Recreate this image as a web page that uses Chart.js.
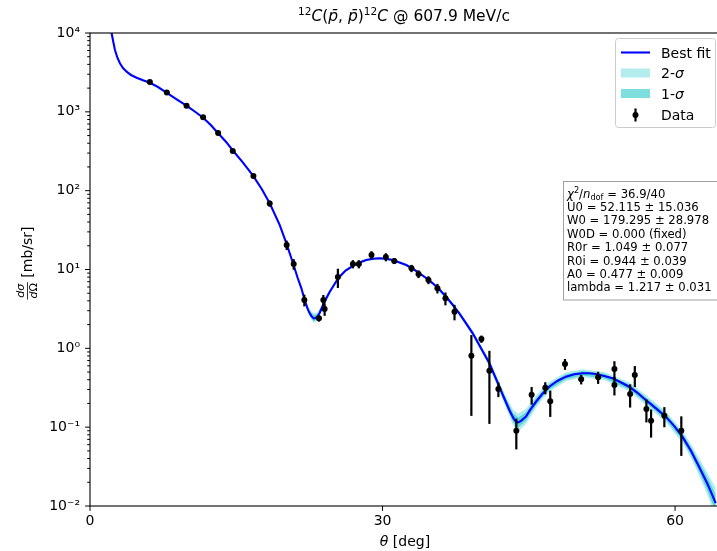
<!DOCTYPE html>
<html><head><meta charset="utf-8">
<script src="https://cdn.jsdelivr.net/npm/chart.js@4.4.0/dist/chart.umd.min.js"></script>
<style>html,body{margin:0;padding:0;overflow:hidden;background:#fff;width:717px;height:551px}canvas{display:block}</style>
</head><body>
<canvas id="c" width="724" height="551" style="width:724px;height:551px"></canvas>
<script>
// ---- data ----
const xTicks = [0, 30, 60];
const yTicks = [1e-2, 1e-1, 1e0, 1e1, 1e2, 1e3, 1e4];

const fitTheta = [2.16, 2.22, 2.35, 2.56, 2.82, 3.07, 3.38, 3.76, 4.20, 4.78, 5.43, 6.14, 6.96, 7.85, 8.81, 9.90, 10.75, 11.60, 12.39, 13.14, 13.92, 14.67, 15.67, 16.72, 17.61, 18.43, 19.46, 20.14, 20.82, 21.30, 21.68, 22.01, 22.32, 22.53, 22.73, 22.94, 23.14, 23.34, 23.55, 23.86, 24.24, 24.57, 24.91, 25.24, 25.60, 26.21, 26.96, 27.64, 28.33, 28.98, 29.69, 30.31, 31.05, 31.74, 32.43, 33.07, 33.79, 34.47, 35.15, 35.84, 36.52, 37.17, 37.88, 38.55, 39.25, 40.03, 40.96, 41.47, 41.98, 42.49, 43.00, 43.41, 43.69, 43.92, 44.23, 44.71, 45.15, 45.74, 46.38, 47.10, 47.92, 48.81, 49.66, 50.51, 51.19, 51.88, 52.73, 53.58, 54.37, 55.29, 56.11, 57.00, 57.95, 59.05, 59.90, 60.75, 61.64, 62.46, 63.28, 63.69, 64.17];
const fitValues = [10900, 9910, 8150, 6080, 4820, 4130, 3600, 3230, 2930, 2710, 2510, 2340, 2070, 1750, 1460, 1200, 1010, 843, 681, 535, 421, 321, 228, 155, 105, 69.2, 36.6, 21.5, 12.0, 7.80, 5.77, 4.10, 3.16, 2.78, 2.54, 2.40, 2.43, 2.55, 2.81, 3.44, 4.35, 5.18, 6.05, 7.05, 8.11, 9.70, 11.1, 12.3, 13.2, 13.7, 13.9, 13.7, 13.2, 12.3, 11.4, 10.3, 8.95, 7.80, 6.68, 5.57, 4.52, 3.60, 2.78, 2.09, 1.55, 1.04, 0.646, 0.459, 0.326, 0.231, 0.165, 0.131, 0.117, 0.115, 0.121, 0.136, 0.167, 0.210, 0.263, 0.326, 0.385, 0.437, 0.468, 0.482, 0.482, 0.472, 0.446, 0.417, 0.374, 0.326, 0.275, 0.221, 0.177, 0.136, 0.104, 0.0757, 0.0498, 0.0315, 0.0196, 0.0150, 0.0109];

const bandTheta = [2.22, 2.56, 3.07, 3.76, 4.78, 6.14, 8.81, 11.60, 13.14, 14.67, 16.72, 17.61, 18.43, 19.46, 20.14, 20.82, 21.30, 21.68, 22.01, 22.53, 22.94, 23.34, 23.86, 24.91, 25.60, 26.21, 27.64, 28.33, 29.69, 31.05, 32.43, 33.79, 35.15, 37.17, 38.55, 39.25, 40.96, 42.49, 43.41, 43.92, 44.71, 45.74, 46.38, 47.10, 48.81, 50.51, 52.73, 55.29, 57.00, 59.05, 60.75, 61.64, 62.46, 63.28, 64.17];
const band2Upper = [10204, 6260, 4252, 3326, 2790, 2409, 1503, 868, 551, 330.5, 159.6, 108.1, 71.25, 37.91, 22.40, 12.61, 8.27, 6.153, 4.450, 3.125, 2.778, 2.866, 3.733, 6.377, 8.473, 10.08, 12.74, 13.67, 14.40, 13.67, 11.81, 9.297, 6.979, 3.817, 2.248, 1.682, 0.7156, 0.2713, 0.1655, 0.1496, 0.1694, 0.2502, 0.3089, 0.3773, 0.4984, 0.5417, 0.5013, 0.3718, 0.2558, 0.1597, 0.09021, 0.06111, 0.04039, 0.02704, 0.01690];
const band2Lower = [9625, 5905, 4011, 3137, 2632, 2273, 1418, 819, 520, 311.8, 150.5, 102.0, 67.21, 35.34, 20.64, 11.42, 7.357, 5.411, 3.778, 2.473, 2.074, 2.269, 3.170, 5.740, 7.762, 9.338, 11.88, 12.75, 13.42, 12.75, 11.01, 8.616, 6.393, 3.396, 1.943, 1.428, 0.5832, 0.1967, 0.1037, 0.08839, 0.1092, 0.1762, 0.2239, 0.2817, 0.3832, 0.4288, 0.3968, 0.2858, 0.1909, 0.1158, 0.06353, 0.04058, 0.02456, 0.01421, 0.00703];
const band1Upper = [10056, 6170, 4191, 3278, 2750, 2374, 1481, 855, 543, 325.7, 157.3, 106.5, 70.22, 37.25, 22.01, 12.36, 8.055, 5.993, 4.296, 2.973, 2.620, 2.735, 3.605, 6.229, 8.302, 9.900, 12.52, 13.43, 14.15, 13.43, 11.60, 9.135, 6.838, 3.718, 2.177, 1.624, 0.6849, 0.2536, 0.1494, 0.1331, 0.1538, 0.2326, 0.2871, 0.3538, 0.4701, 0.5155, 0.4770, 0.3507, 0.2398, 0.1493, 0.08385, 0.05597, 0.03646, 0.02370, 0.01398];
const band1Lower = [9766, 5992, 4070, 3183, 2671, 2306, 1439, 831, 527, 316.3, 152.8, 103.5, 68.20, 35.96, 21.00, 11.65, 7.553, 5.555, 3.913, 2.599, 2.199, 2.377, 3.283, 5.876, 7.923, 9.504, 12.09, 12.97, 13.66, 12.97, 11.20, 8.769, 6.526, 3.486, 2.006, 1.479, 0.6093, 0.2104, 0.1149, 0.09936, 0.1203, 0.1896, 0.2409, 0.3004, 0.4062, 0.4507, 0.4170, 0.3030, 0.2036, 0.1239, 0.06834, 0.04431, 0.02722, 0.01621, 0.00850];

const dataTheta = [6.14, 7.88, 9.90, 11.60, 13.14, 14.64, 16.76, 18.43, 20.17, 20.89, 21.98, 23.48, 23.93, 24.06, 25.42, 26.96, 27.57, 28.87, 30.34, 31.20, 32.97, 33.69, 34.71, 35.63, 36.45, 37.38, 39.11, 40.14, 40.96, 41.88, 43.72, 45.29, 46.69, 47.20, 48.71, 50.37, 52.11, 53.78, 53.78, 55.39, 55.87, 57.06, 57.54, 58.90, 60.64];
const dataValues = [2390, 1759, 1196, 852, 539, 318.6, 153.5, 68.7, 20.45, 11.74, 4.10, 2.403, 4.10, 3.154, 8.03, 11.74, 11.74, 15.27, 14.40, 12.82, 10.35, 8.77, 7.36, 5.77, 4.31, 2.914, 0.806, 1.313, 0.520, 0.3047, 0.0902, 0.258, 0.3165, 0.2128, 0.6326, 0.4046, 0.4290, 0.5466, 0.3424, 0.2633, 0.4588, 0.1699, 0.1207, 0.1397, 0.0902];
const dataErrors = [50, 40, 28, 20, 13, 8, 4.5, 6, 2.8, 1.8, 0.7, 0.22, 0.65, 0.57, 2.2, 1.4, 1.4, 1.8, 1.7, 1.1, 1.1, 1.0, 0.85, 0.8, 0.8, 0.65, 0.667, 0.14, 0.41, 0.064, 0.038, 0.065, 0.055, 0.078, 0.1, 0.056, 0.075, 0.14, 0.09, 0.086, 0.137, 0.055, 0.047, 0.04, 0.047];

const statsLines = ['U0 = 52.115 \u00b1 15.036', 'W0 = 179.295 \u00b1 28.978', 'W0D = 0.000 (fixed)', 'R0r = 1.049 \u00b1 0.077', 'R0i = 0.944 \u00b1 0.039', 'A0 = 0.477 \u00b1 0.009', 'lambda = 1.217 \u00b1 0.031'];

// ---- helpers ----
const FAM = '"DejaVu Sans"';
const pts = (xs, ys) => xs.map((x, i) => ({x: x, y: ys[i]}));
const SUP = {'-': '\u207b', '0': '\u2070', '1': '\u00b9', '2': '\u00b2', '3': '\u00b3', '4': '\u2074'};
const sup = s => String(s).split('').map(c => SUP[c]).join('');
function fnt(r, base) { return (r.i ? 'italic ' : '') + (r.s || base) + 'px ' + FAM; }
function drawRuns(ctx, runs, x, y, base, align) {
  let total = 0;
  runs.forEach(r => { ctx.font = fnt(r, base); r.w = ctx.measureText(r.t).width; total += r.w; });
  let cx = align === 'center' ? x - total / 2 : x;
  ctx.textAlign = 'left'; ctx.textBaseline = 'alphabetic';
  runs.forEach(r => { ctx.font = fnt(r, base); ctx.fillText(r.t, cx, y + (r.dy || 0)); cx += r.w; });
  return total;
}

const decor = {
  id: 'decor',
  afterDatasetsDraw(chart) {
    const ctx = chart.ctx, xs = chart.scales.x, ys = chart.scales.y, ca = chart.chartArea;
    ctx.save();
    ctx.beginPath(); ctx.rect(ca.left, ca.top, ca.right - ca.left, ca.bottom - ca.top); ctx.clip();
    ctx.strokeStyle = '#000'; ctx.lineWidth = 2.2;
    dataTheta.forEach((t, i) => {
      const x = xs.getPixelForValue(t);
      const hi = ys.getPixelForValue(dataValues[i] + dataErrors[i]);
      const lo = ys.getPixelForValue(Math.max(dataValues[i] - dataErrors[i], 1e-4));
      ctx.beginPath(); ctx.moveTo(x, hi); ctx.lineTo(x, lo); ctx.stroke();
    });
    ctx.restore();
  },
  afterDraw(chart) {
    const ctx = chart.ctx, xs = chart.scales.x, ys = chart.scales.y, ca = chart.chartArea;
    ctx.save();
    // frame
    ctx.strokeStyle = '#000'; ctx.lineWidth = 1.1;
    ctx.strokeRect(ca.left, ca.top, ca.right - ca.left, ca.bottom - ca.top);
    // ticks
    ctx.lineWidth = 1;
    ctx.beginPath();
    yTicks.forEach(v => { const y = ys.getPixelForValue(v); ctx.moveTo(ca.left - 4.9, y); ctx.lineTo(ca.left, y); });
    for (let e = -2; e < 4; e++) for (let k = 2; k < 10; k++) {
      const y = ys.getPixelForValue(k * Math.pow(10, e)); ctx.moveTo(ca.left - 2.8, y); ctx.lineTo(ca.left, y);
    }
    xTicks.forEach(v => { const x = xs.getPixelForValue(v); ctx.moveTo(x, ca.bottom); ctx.lineTo(x, ca.bottom + 4.9); });
    ctx.stroke();

    ctx.fillStyle = '#000';
    // title
    drawRuns(ctx, [{t: '12', s: 10.5, dy: -6}, {t: 'C', i: 1}, {t: '('}, {t: 'p\u0304', i: 1}, {t: ', '}, {t: 'p\u0304', i: 1}, {t: ')'}, {t: '12', s: 10.5, dy: -6}, {t: 'C', i: 1}, {t: ' @ 607.9 MeV/c'}], 404, 21, 15.5, 'center');
    // x label
    drawRuns(ctx, [{t: '\u03b8', i: 1}, {t: ' [deg]'}], 405, 546, 14, 'center');
    // y label (rotated)
    ctx.save();
    ctx.translate(27, 263); ctx.rotate(-Math.PI / 2);
    ctx.font = 'italic 11px ' + FAM;
    const numW = ctx.measureText('d\u03c3').width;
    const dW = ctx.measureText('d').width;
    ctx.font = '11px ' + FAM;
    const denW = dW + ctx.measureText('\u03a9').width;
    const fracW = Math.max(numW, denW) + 2;
    ctx.font = '14px ' + FAM;
    const txtW = ctx.measureText(' [mb/sr]').width;
    const start = -(fracW + txtW) / 2;
    drawRuns(ctx, [{t: 'd\u03c3', i: 1}], start + fracW / 2, -3, 11, 'center');
    drawRuns(ctx, [{t: 'd', i: 1}, {t: '\u03a9'}], start + fracW / 2, 10, 11, 'center');
    ctx.lineWidth = 0.8; ctx.beginPath(); ctx.moveTo(start, 0.5); ctx.lineTo(start + fracW, 0.5); ctx.stroke();
    ctx.font = '14px ' + FAM; ctx.textAlign = 'left'; ctx.textBaseline = 'alphabetic';
    ctx.fillText(' [mb/sr]', start + fracW, 4.5);
    ctx.restore();

    // legend
    ctx.fillStyle = 'rgba(255,255,255,0.85)'; ctx.strokeStyle = '#cccccc'; ctx.lineWidth = 1;
    ctx.beginPath(); ctx.roundRect(615.5, 38.5, 100, 89, 3); ctx.fill(); ctx.stroke();
    ctx.strokeStyle = '#0000ff'; ctx.lineWidth = 2.1;
    ctx.beginPath(); ctx.moveTo(621, 52.5); ctx.lineTo(650, 52.5); ctx.stroke();
    ctx.fillStyle = 'rgba(0,191,191,0.3)'; ctx.fillRect(621, 68.5, 29, 9);
    ctx.fillStyle = 'rgba(0,191,191,0.5)'; ctx.fillRect(621, 89, 29, 9);
    ctx.strokeStyle = '#000'; ctx.lineWidth = 2.2;
    ctx.beginPath(); ctx.moveTo(635.5, 108.5); ctx.lineTo(635.5, 121.5); ctx.stroke();
    ctx.fillStyle = '#000'; ctx.beginPath(); ctx.arc(635.5, 115, 3, 0, Math.PI * 2); ctx.fill();
    drawRuns(ctx, [{t: 'Best fit'}], 661, 57.5, 14, 'left');
    drawRuns(ctx, [{t: '2-'}, {t: '\u03c3', i: 1}], 661, 78, 14, 'left');
    drawRuns(ctx, [{t: '1-'}, {t: '\u03c3', i: 1}], 661, 98.5, 14, 'left');
    drawRuns(ctx, [{t: 'Data'}], 661, 120, 14, 'left');

    // stats box
    ctx.fillStyle = '#fff'; ctx.strokeStyle = '#a0a0a0'; ctx.lineWidth = 1;
    ctx.fillRect(563.5, 181.5, 170, 118.5); ctx.strokeRect(563.5, 181.5, 170, 118.5);
    ctx.fillStyle = '#000';
    drawRuns(ctx, [{t: '\u03c7', i: 1}, {t: '2', s: 8.2, dy: -4.5}, {t: '/'}, {t: 'n', i: 1}, {t: 'dof', s: 8.2, dy: 2}, {t: ' = 36.9/40'}], 567, 197.5, 11.65, 'left');
    statsLines.forEach((s, i) => drawRuns(ctx, [{t: s}], 567, 197.5 + 13.4 * (i + 1), 11.65, 'left'));
    ctx.restore();
  }
};

Chart.defaults.font.family = 'DejaVu Sans';
Chart.defaults.font.size = 14;
Chart.defaults.color = '#000';

const bandStyle = {borderColor: 'rgba(0,0,0,0)', borderWidth: 0, pointRadius: 0, tension: 0};

new Chart(document.getElementById('c'), {
  type: 'line',
  data: {
    datasets: [
      {label: 'Data', type: 'scatter', data: pts(dataTheta, dataValues), pointRadius: 3, pointHoverRadius: 3,
       pointBackgroundColor: '#000', pointBorderWidth: 0, showLine: false, order: 0},
      {label: 'Best fit', data: pts(fitTheta, fitValues), borderColor: '#0000ff', borderWidth: 2.1, pointRadius: 0,
       fill: false, tension: 0, order: 1},
      Object.assign({label: '1-sigma upper', data: pts(bandTheta, band1Upper), fill: '+1', backgroundColor: 'rgba(0,191,191,0.5)', order: 2}, bandStyle),
      Object.assign({label: '1-sigma lower', data: pts(bandTheta, band1Lower), fill: false, order: 3}, bandStyle),
      Object.assign({label: '2-sigma upper', data: pts(bandTheta, band2Upper), fill: '+1', backgroundColor: 'rgba(0,191,191,0.3)', order: 4}, bandStyle),
      Object.assign({label: '2-sigma lower', data: pts(bandTheta, band2Lower), fill: false, order: 5}, bandStyle)
    ]
  },
  options: {
    responsive: false, animation: false, devicePixelRatio: 1,
    layout: {padding: {left: 0, right: 2, top: 33, bottom: 0}},
    plugins: {legend: {display: false}, title: {display: false}, tooltip: {enabled: false}},
    scales: {
      x: {
        type: 'linear', min: 0, max: 64.71,
        afterBuildTicks: s => { s.ticks = xTicks.map(v => ({value: v})); },
        afterFit: s => { s.height = 45; },
        grid: {display: false}, border: {display: false},
        ticks: {padding: -1, maxRotation: 0, autoSkip: false, color: '#000', font: {size: 14}, callback: v => String(v)}
      },
      y: {
        type: 'logarithmic', min: 1e-2, max: 1e4,
        afterBuildTicks: s => { s.ticks = yTicks.map(v => ({value: v})); },
        afterFit: s => { s.width = 90; },
        grid: {display: false}, border: {display: false},
        ticks: {padding: 2, autoSkip: false, color: '#000', font: {size: 14},
                callback: v => '10' + sup(Math.round(Math.log10(v)))}
      }
    }
  },
  plugins: [decor]
});
</script>
</body></html>
